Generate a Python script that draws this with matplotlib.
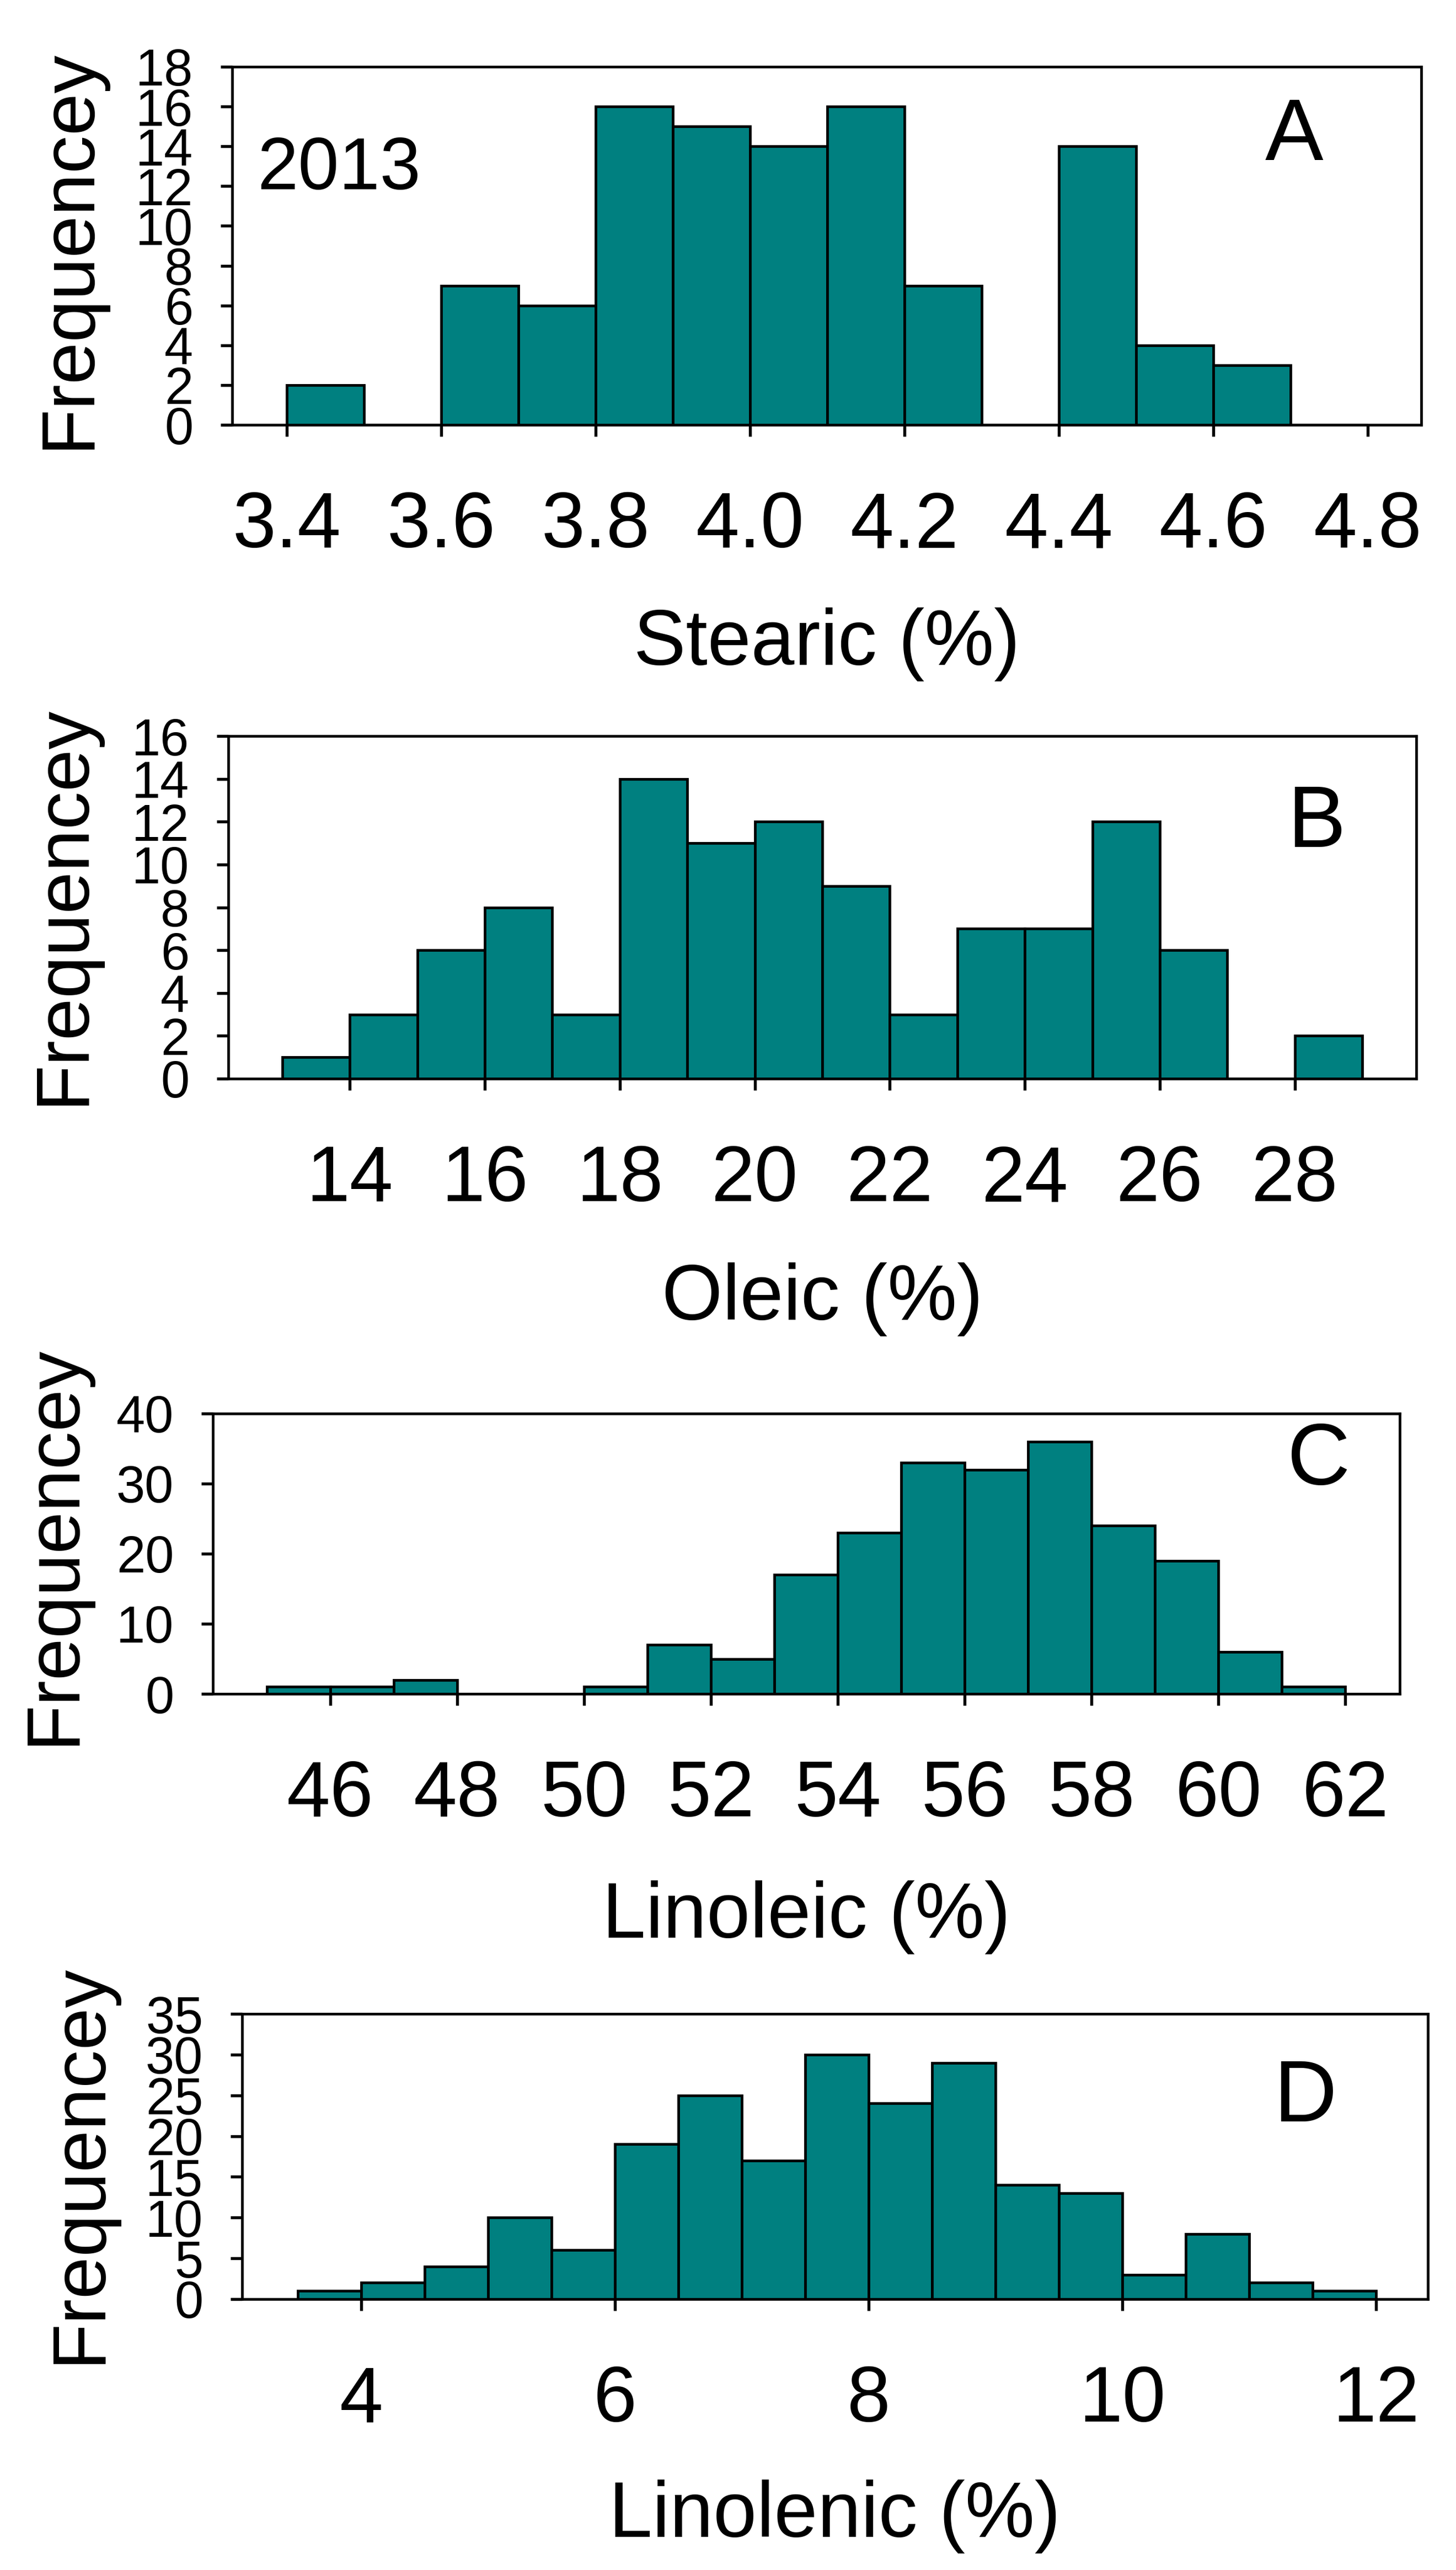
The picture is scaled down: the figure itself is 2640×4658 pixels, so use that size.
import matplotlib
matplotlib.use("Agg")
import matplotlib.pyplot as plt
import numpy as np

plt.rcParams['font.family'] = ['Liberation Sans', 'DejaVu Sans']

# ---------------- data ----------------
stearic_edges = [3.4, 3.5, 3.6, 3.7, 3.8, 3.9, 4.0, 4.1, 4.2, 4.3, 4.4, 4.5, 4.6, 4.7, 4.8]
stearic_counts = [2, 0, 7, 6, 16, 15, 14, 16, 7, 0, 14, 4, 3, 0]
stearic_xticks = [3.4, 3.6, 3.8, 4.0, 4.2, 4.4, 4.6, 4.8]
stearic_xlabels = ["3.4", "3.6", "3.8", "4.0", "4.2", "4.4", "4.6", "4.8"]
stearic_yticks = [0, 2, 4, 6, 8, 10, 12, 14, 16, 18]

oleic_edges = [13, 14, 15, 16, 17, 18, 19, 20, 21, 22, 23, 24, 25, 26, 27, 28, 29]
oleic_counts = [1, 3, 6, 8, 3, 14, 11, 12, 9, 3, 7, 7, 12, 6, 0, 2]
oleic_xticks = [14, 16, 18, 20, 22, 24, 26, 28]
oleic_yticks = [0, 2, 4, 6, 8, 10, 12, 14, 16]

linoleic_edges = [45, 46, 47, 48, 49, 50, 51, 52, 53, 54, 55, 56, 57, 58, 59, 60, 61, 62]
linoleic_counts = [1, 1, 2, 0, 0, 1, 7, 5, 17, 23, 33, 32, 36, 24, 19, 6, 1]
linoleic_xticks = [46, 48, 50, 52, 54, 56, 58, 60, 62]
linoleic_yticks = [0, 10, 20, 30, 40]

linolenic_edges = [3.5, 4.0, 4.5, 5.0, 5.5, 6.0, 6.5, 7.0, 7.5, 8.0, 8.5, 9.0, 9.5,
                   10.0, 10.5, 11.0, 11.5, 12.0]
linolenic_counts = [1, 2, 4, 10, 6, 19, 25, 17, 30, 24, 29, 14, 13, 3, 8, 2, 1]
linolenic_xticks = [4, 6, 8, 10, 12]
linolenic_yticks = [0, 5, 10, 15, 20, 25, 30, 35]

# ---------------- layout (pixel coordinates of the 2640x4658 canvas) ----------------
W, H = 2640, 4658
DPI = 300
PT = DPI / 72.0

def fx(x):
    return x / W

def fy(y):
    return 1 - y / H

BAR = '#008080'
LW = 1.15

fig = plt.figure(figsize=(W / DPI, H / DPI), dpi=DPI)

panels = [
    dict(box=(421, 121, 2577, 770), edges=stearic_edges, counts=stearic_counts,
         xticks=stearic_xticks, xlabels=stearic_xlabels, yticks=stearic_yticks,
         xlim=(3.329, 4.869), ylim=(0, 18),
         freq=dict(x=190, y=88, va='top'),
         xlab="Stearic (%)", xlab_base=1205, letter="A", letter_xy=(2347, 290)),
    dict(box=(414, 1334, 2568, 1955), edges=oleic_edges, counts=oleic_counts,
         xticks=oleic_xticks, xlabels=[str(v) for v in oleic_xticks], yticks=oleic_yticks,
         xlim=(12.2, 29.8), ylim=(0, 16),
         freq=dict(x=180, y=1640, va='center'),
         xlab="Oleic (%)", xlab_base=2392, letter="B", letter_xy=(2388, 1535)),
    dict(box=(386, 2562, 2538, 3070), edges=linoleic_edges, counts=linoleic_counts,
         xticks=linoleic_xticks, xlabels=[str(v) for v in linoleic_xticks], yticks=linoleic_yticks,
         xlim=(44.15, 62.86), ylim=(0, 40),
         freq=dict(x=163, y=2800, va='center'),
         xlab="Linoleic (%)", xlab_base=3512, letter="C", letter_xy=(2391, 2690)),
    dict(box=(439, 3650, 2589, 4167), edges=linolenic_edges, counts=linolenic_counts,
         xticks=linolenic_xticks, xlabels=[str(v) for v in linolenic_xticks], yticks=linolenic_yticks,
         xlim=(3.06, 12.41), ylim=(0, 35),
         freq=dict(x=210, y=4284, va='bottom'),
         xlab="Linolenic (%)", xlab_base=4598, letter="D", letter_xy=(2367, 3845)),
]

XT_LEN = 5.0          # pt
XT_BASE = 222.0       # px from axis line to tick-label baseline
XT_PAD = XT_BASE / PT - XT_LEN

for p in panels:
    x0, y0, x1, y1 = p['box']
    ax = fig.add_axes([fx(x0), fy(y1), fx(x1) - fx(x0), fy(y0) - fy(y1)])
    edges = np.array(p['edges'], dtype=float)
    counts = np.array(p['counts'], dtype=float)
    ax.bar(edges[:-1], counts, width=np.diff(edges), align='edge',
           color=BAR, edgecolor='black', linewidth=LW, zorder=2)
    ax.set_xlim(*p['xlim'])
    ax.set_ylim(*p['ylim'])
    ax.set_xticks(p['xticks'])
    ax.set_xticklabels(p['xlabels'])
    ax.set_yticks(p['yticks'])
    ax.set_yticklabels([str(v) for v in p['yticks']])
    ax.tick_params(axis='x', direction='out', length=XT_LEN, width=1.3,
                   labelsize=34, pad=XT_PAD)
    ax.tick_params(axis='y', direction='out', length=5.0, width=1.3,
                   labelsize=22.5, pad=12)
    for lab in ax.get_xticklabels():
        lab.set_verticalalignment('baseline')
    for s in ax.spines.values():
        s.set_linewidth(LW)
        s.set_color('black')
    ax.set_facecolor('white')

    f = p['freq']
    fig.text(fx(f['x']), fy(f['y']), "Frequencey", rotation=90,
             ha='right', va=f['va'], fontsize=33)
    fig.text(fx((x0 + x1) / 2), fy(p['xlab_base']), p['xlab'],
             ha='center', va='baseline', fontsize=34)
    fig.text(fx(p['letter_xy'][0]), fy(p['letter_xy'][1]), p['letter'],
             ha='center', va='baseline', fontsize=38)

fig.text(fx(466), fy(343), "2013", ha='left', va='baseline', fontsize=32)

fig.savefig("out.png", dpi=DPI, facecolor='white')
